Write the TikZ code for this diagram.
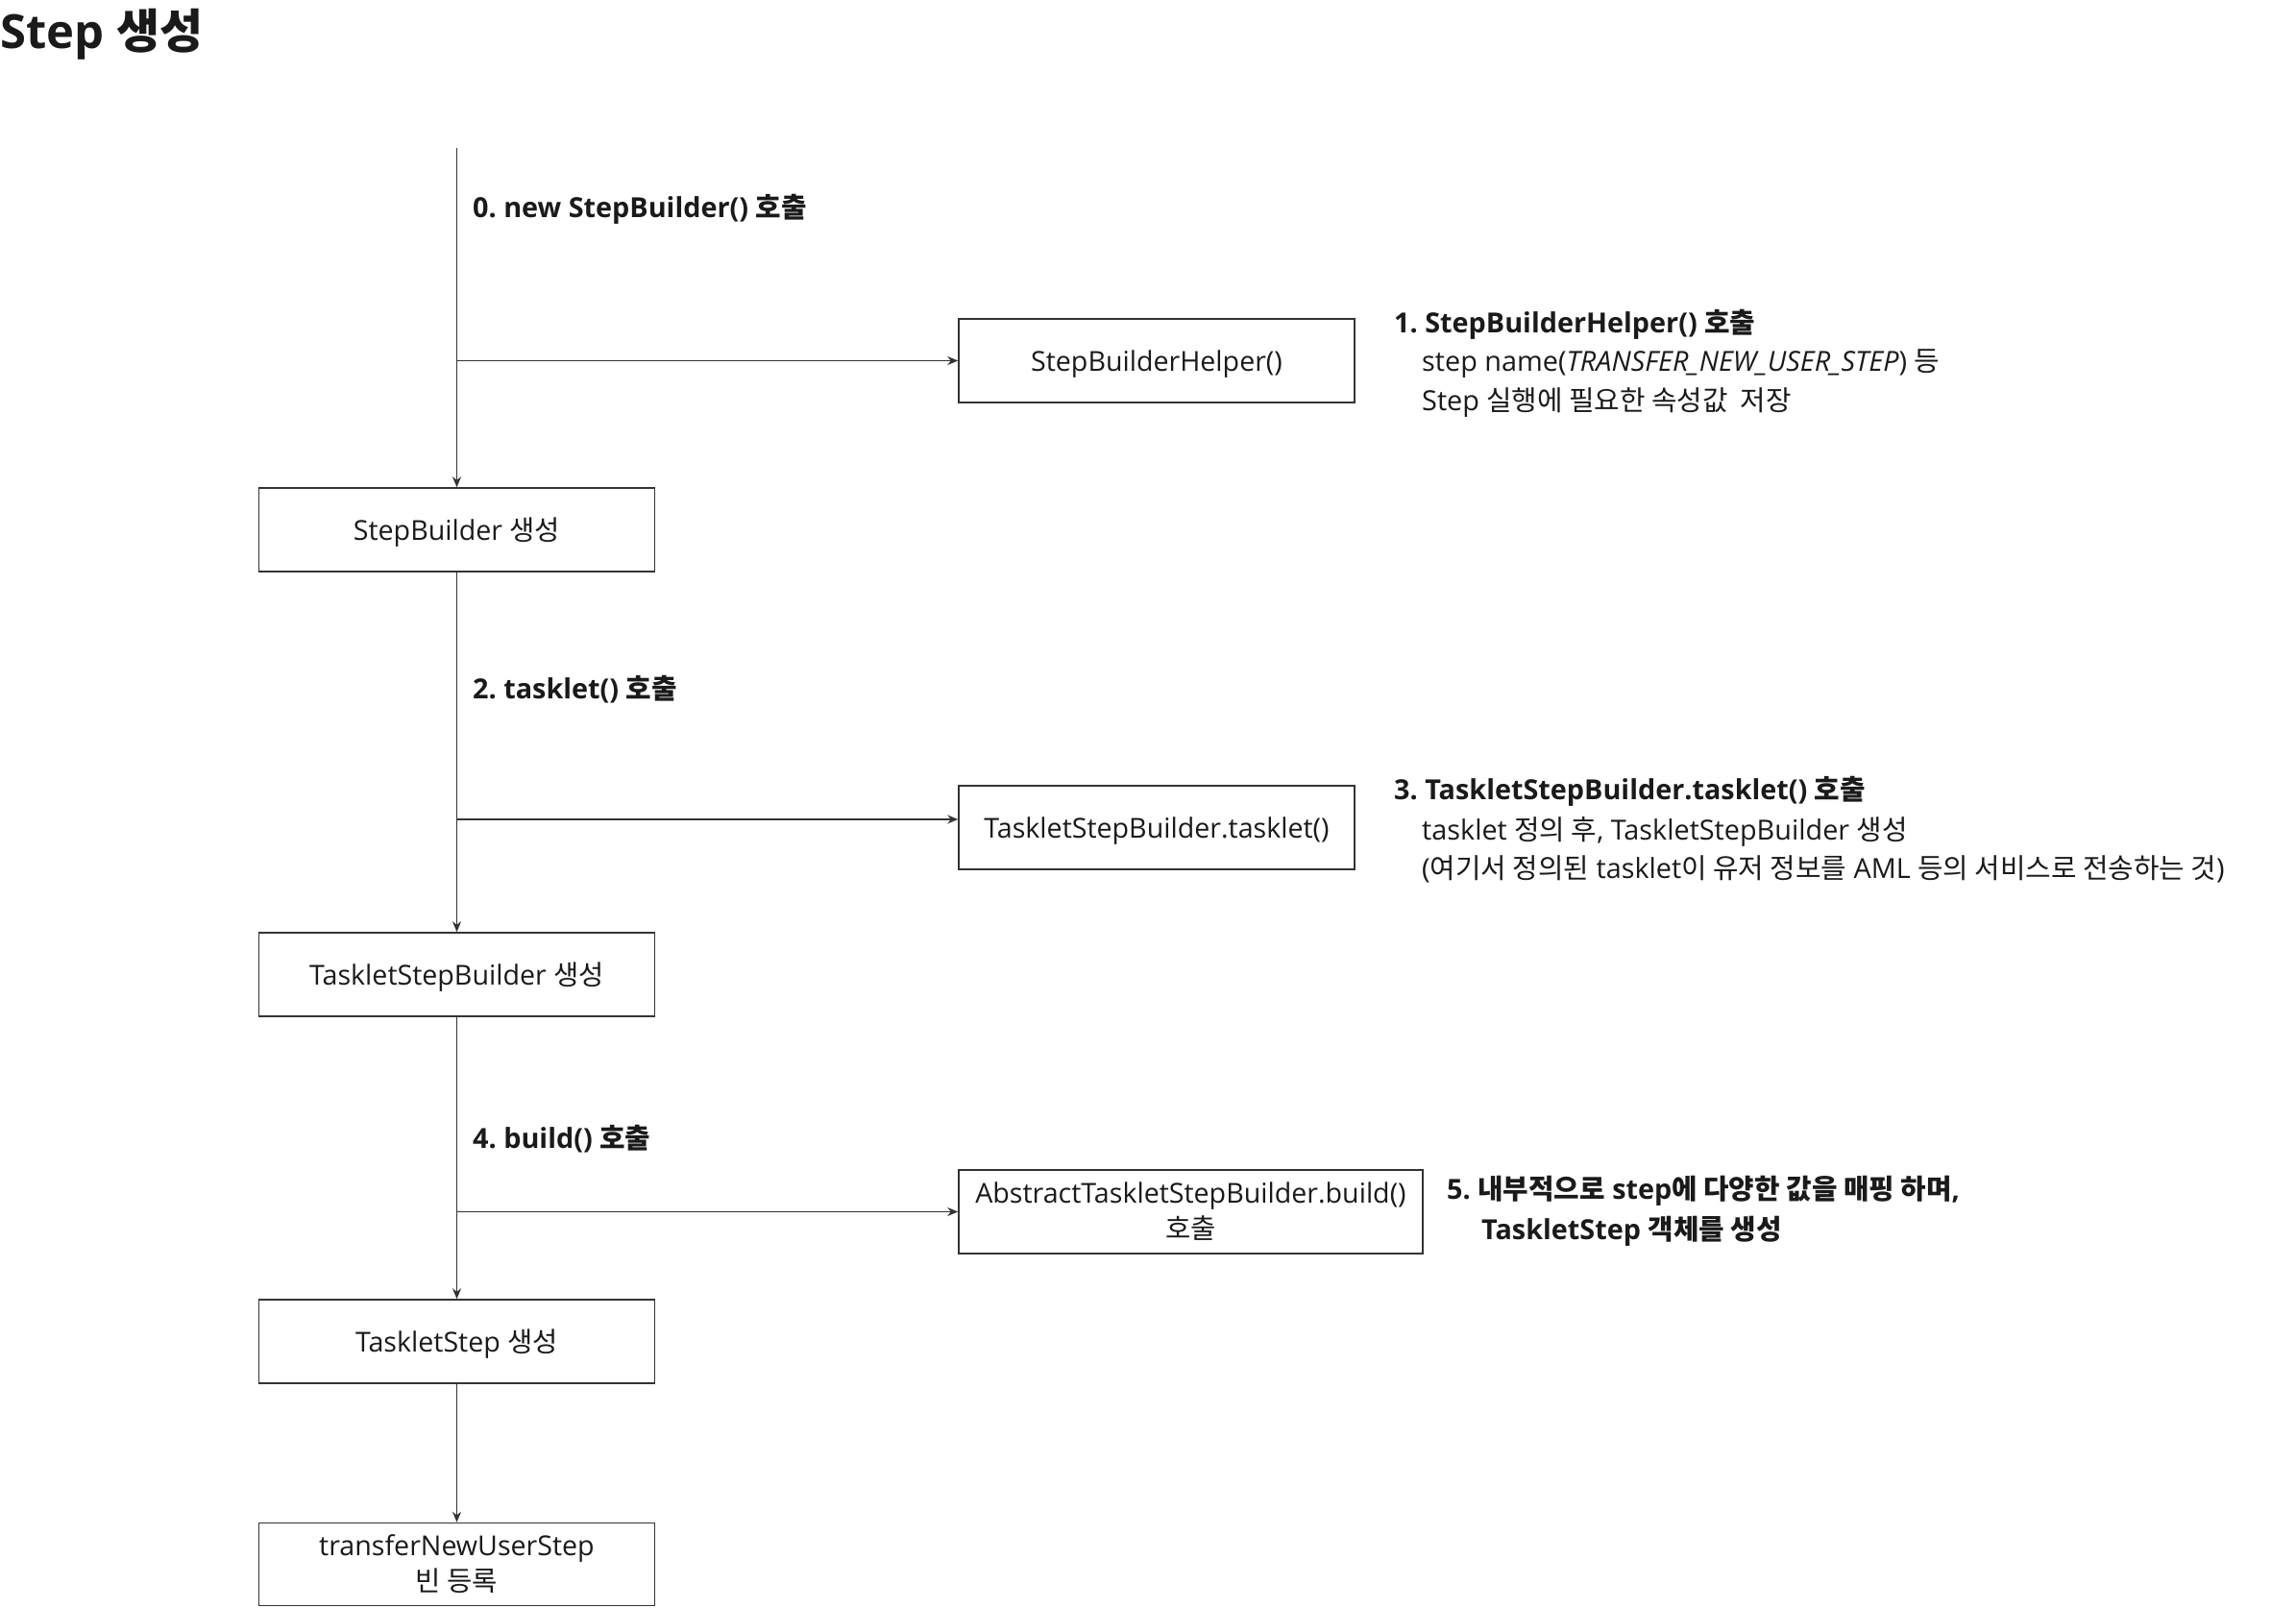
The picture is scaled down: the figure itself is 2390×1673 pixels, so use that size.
\documentclass[tikz,border=0pt]{standalone}
\usepackage{fontspec}
\setmainfont{Open Sans}
\newfontfamily\kr{Noto Sans CJK KR}
\usetikzlibrary{arrows.meta}
\definecolor{ln}{HTML}{333333}
\definecolor{tx}{HTML}{1A1A1A}
\tikzset{
  box/.style={draw=ln, line width=1.5pt, minimum width=412pt, minimum height=87pt, inner sep=0pt, align=center, text=tx, font=\fontsize{28.6}{37}\selectfont},
  onebox/.style={box, text height=28pt, text depth=6pt},
  lbl/.style={anchor=west, inner sep=0pt, align=left, text=tx, font=\fontsize{28.8}{38}\selectfont},
  blbl/.style={anchor=west, inner sep=0pt, align=left, text=tx, font=\bfseries\fontsize{28.8}{38}\selectfont},
  arr/.style={-{Stealth[length=11pt,width=9pt]}, line width=1.6pt, draw=ln}
}
\begin{document}
\frenchspacing
\begin{tikzpicture}[x=1pt,y=-1pt]
\useasboundingbox (0,0) rectangle (2390,1673);
% title
\node[anchor=base west, inner sep=0pt, text=tx, font=\bfseries\fontsize{49}{60}\selectfont] (title) at (0,50) {Step {\kr 생성}};
% boxes
\coordinate (top) at (475.5,154);
\node[onebox] (sb) at (475.5,551.5) {StepBuilder {\kr 생성}};
\node[onebox] (helper) at (1204,375.5) {StepBuilderHelper()};
\node[onebox] (tasklet) at (1204,861.5) {TaskletStepBuilder.tasklet()};
\node[onebox] (tsb) at (475.5,1014.5) {TaskletStepBuilder {\kr 생성}};
\node[box, minimum width=483pt] (abs) at (1239.5,1261.5) {AbstractTaskletStepBuilder.build()\\{\kr 호출}};
\node[onebox] (ts) at (475.5,1396.5) {TaskletStep {\kr 생성}};
\node[box, minimum height=86pt] (tr) at (475.5,1628.5) {transferNewUserStep\\{\kr 빈 등록}};
\coordinate (t3) at ([yshift=8.5pt]tasklet.west);
% connectors
\draw[arr] (top) -- (sb.north);
\draw[arr] (top |- helper.west) -- (helper.west);
\draw[arr] (sb.south) -- (tsb.north);
\draw[arr] (sb.south |- t3) -- (t3);
\draw[arr] (tsb.south) -- (ts.north);
\draw[arr] (tsb.south |- abs.west) -- (abs.west);
\draw[arr] (ts.south) -- (tr.north);
% labels
\node[blbl] (l0) at (492,218) {0. new StepBuilder() {\kr 호출}};
\node[blbl] (l1a) at (1451,338) {1. StepBuilderHelper() {\kr 호출}};
\node[lbl] (l1b) at (1480,379) {step name(\textit{TRANSFER\_NEW\_USER\_STEP}) {\kr 등}};
\node[lbl] (l1c) at (1480,419) {Step {\kr 실행에 필요한 속성값\ \ 저장}};
\node[blbl] (l2) at (492,718) {2. tasklet() {\kr 호출}};
\node[blbl] (l3a) at (1451,824) {3. TaskletStepBuilder.tasklet() {\kr 호출}};
\node[lbl] (l3b) at (1480,866) {tasklet {\kr 정의 후}, TaskletStepBuilder {\kr 생성}};
\node[lbl] (l3c) at (1480,905) {({\kr 여기서 정의된} tasklet{\kr 이 유저 정보를} AML {\kr 등의 서비스로 전송하는 것})};
\node[blbl] (l4) at (492,1186) {4. build() {\kr 호출}};
\node[blbl] (l5a) at (1506,1240) {5. {\kr 내부적으로} step{\kr 에 다양한 값을 매핑 하며},};
\node[blbl] (l5b) at (1542,1282) {TaskletStep {\kr 객체를 생성}};
\end{tikzpicture}
\end{document}
